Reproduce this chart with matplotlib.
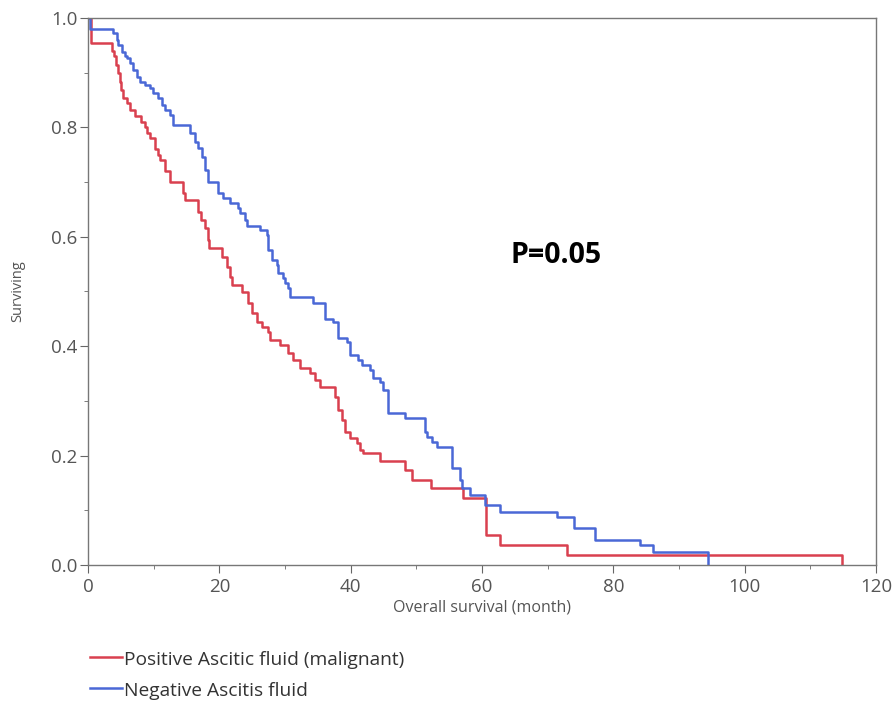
import matplotlib
matplotlib.use("Agg")
import matplotlib.pyplot as plt
from matplotlib.lines import Line2D
from matplotlib.ticker import MultipleLocator, FormatStrFormatter

pos_t = [0, 0.4, 3.7, 4.0, 4.3, 4.5, 4.8, 5.1, 5.4, 5.9, 6.4, 7.2, 8.0, 8.7, 9.0, 9.4,
         10.2, 10.6, 11.0, 11.7, 12.5, 14.5, 14.8, 16.8, 17.2, 17.8, 18.2, 18.5, 20.4,
         21.2, 21.6, 21.9, 23.5, 24.3, 24.9, 25.7, 26.5, 27.4, 27.7, 29.3, 30.4, 31.2,
         32.3, 33.8, 34.6, 35.3, 37.6, 38.1, 38.7, 39.1, 39.9, 41.0, 41.4, 41.9, 44.5,
         48.3, 49.3, 52.2, 57.1, 60.6, 62.7, 72.9, 114.8]
pos_s = [1.0, 0.954, 0.94, 0.93, 0.914, 0.90, 0.883, 0.868, 0.854, 0.845, 0.832, 0.82,
         0.81, 0.80, 0.79, 0.78, 0.76, 0.75, 0.74, 0.72, 0.70, 0.68, 0.667, 0.645, 0.63,
         0.616, 0.594, 0.58, 0.563, 0.545, 0.527, 0.512, 0.50, 0.479, 0.46, 0.444, 0.435,
         0.426, 0.411, 0.402, 0.387, 0.375, 0.36, 0.351, 0.338, 0.325, 0.307, 0.283,
         0.265, 0.243, 0.232, 0.223, 0.21, 0.205, 0.19, 0.174, 0.155, 0.141, 0.122,
         0.055, 0.036, 0.018, 0.0]

neg_t = [0, 0.3, 3.8, 4.4, 4.6, 5.2, 5.6, 5.9, 6.4, 6.9, 7.5, 7.9, 8.7, 9.4, 9.9, 10.7,
         11.3, 11.7, 12.5, 12.9, 15.5, 16.3, 16.8, 17.4, 17.8, 18.3, 19.8, 20.6, 21.6,
         22.8, 23.1, 23.9, 24.2, 26.2, 27.3, 27.4, 28.0, 28.8, 28.9, 29.7, 30.0, 30.5,
         30.8, 34.3, 36.1, 37.3, 38.1, 39.4, 39.9, 41.1, 41.7, 42.9, 43.4, 44.5, 44.9,
         45.7, 48.3, 51.3, 51.6, 52.4, 53.1, 55.4, 56.6, 57.0, 58.2, 60.5, 62.7, 71.4,
         74.0, 77.2, 84.1, 86.0, 94.4]
neg_s = [1.0, 0.98, 0.972, 0.96, 0.95, 0.938, 0.93, 0.927, 0.918, 0.905, 0.892, 0.883,
         0.877, 0.872, 0.863, 0.854, 0.841, 0.832, 0.823, 0.804, 0.79, 0.773, 0.762,
         0.746, 0.722, 0.70, 0.68, 0.671, 0.662, 0.652, 0.643, 0.631, 0.619, 0.612,
         0.603, 0.576, 0.558, 0.548, 0.534, 0.525, 0.515, 0.506, 0.49, 0.479, 0.45,
         0.444, 0.415, 0.408, 0.384, 0.375, 0.366, 0.357, 0.342, 0.335, 0.32, 0.278,
         0.268, 0.243, 0.234, 0.225, 0.216, 0.177, 0.155, 0.14, 0.128, 0.11, 0.097,
         0.088, 0.068, 0.046, 0.037, 0.024, 0.0]

labels = ["Positive Ascitic fluid (malignant)", "Negative Ascitis fluid"]
colors = ["#d9404f", "#4a68d6"]

plt.rcParams['font.family'] = ['Open Sans', 'DejaVu Sans']

fig = plt.figure(figsize=(8.95, 7.04), dpi=100)
ax = fig.add_axes([88/895, 1-565/704, (876-88)/895, (565-18)/704])

ax.step(pos_t, pos_s, where='post', color=colors[0], lw=1.8)
ax.step(neg_t, neg_s, where='post', color=colors[1], lw=1.8)

ax.set_xlim(0, 120)
ax.set_ylim(0, 1.0)
ax.xaxis.set_major_locator(MultipleLocator(20))
ax.xaxis.set_minor_locator(MultipleLocator(10))
ax.yaxis.set_major_locator(MultipleLocator(0.2))
ax.yaxis.set_minor_locator(MultipleLocator(0.1))
ax.yaxis.set_major_formatter(FormatStrFormatter('%.1f'))
ax.tick_params(which='both', direction='out', colors='#666666', labelcolor='#555555',
               labelsize=13.5)
ax.tick_params(which='major', length=6, pad=1.5)
ax.tick_params(which='minor', length=3)
ax.tick_params(axis='x', which='major', pad=3)
for s in ax.spines.values():
    s.set_color('#777777')
    s.set_linewidth(1.0)

ax.set_xlabel("Overall survival (month)", fontsize=11.5, color='#555555', labelpad=3)
ax.set_ylabel("Surviving", fontsize=10.5, color='#555555')
ax.yaxis.set_label_coords(-0.08, 0.5)

ax.text(71.3, 0.565, "P=0.05", fontsize=20.5, fontweight='bold', ha='center', va='center',
        color='black')

leg_y = [657, 688]
for lab, col, yy in zip(labels, colors, leg_y):
    fig.add_artist(Line2D([90/895, 122/895], [1-yy/704, 1-yy/704],
                          transform=fig.transFigure, color=col, lw=1.8))
    fig.text(124/895, 1-(yy+8)/704, lab, fontsize=13.8, color='#333333',
             ha='left', va='baseline')

fig.savefig("out.png", dpi=100)
